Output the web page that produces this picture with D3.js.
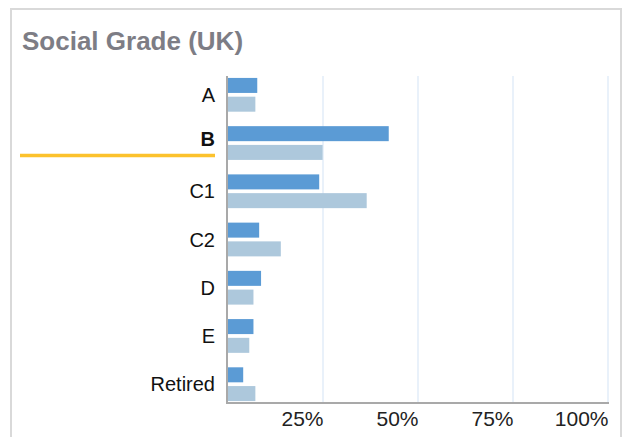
<!DOCTYPE html>
<html>
<head>
<meta charset="utf-8">
<script src="https://cdn.jsdelivr.net/npm/d3@7"></script>
<style>
  body { margin: 0; background: #fff; }
  text { font-family: "Liberation Sans", Arial, sans-serif; }
</style>
</head>
<body>
<svg id="chart"></svg>
<script>
var width = 628;
var height = 437;

// data
var categories = ["A", "B", "C1", "C2", "D", "E", "Retired"];
var seriesNames = ["audience", "population"];
var audience = [7.7, 42.3, 24.0, 8.2, 8.7, 6.7, 4.0];
var population = [7.2, 24.9, 36.5, 13.9, 6.7, 5.6, 7.2];
var tickVals = [25, 50, 75, 100];
var selected = "B";

var colors = { audience: "#5b9bd5", population: "#adc8dc" };

var svg = d3.select("#chart")
  .attr("width", width)
  .attr("height", height);

// panel border
svg.append("rect")
  .attr("x", 11).attr("y", 9)
  .attr("width", 610).attr("height", 460)
  .attr("fill", "none")
  .attr("stroke", "#d9d9d9")
  .attr("stroke-width", 2);

svg.append("text")
  .attr("x", 22).attr("y", 50)
  .attr("font-size", 26)
  .attr("font-weight", "bold")
  .attr("fill", "#7d7d85")
  .text("Social Grade (UK)");

var x = d3.scaleLinear().domain([0, 100]).range([228, 608]);

var y = d3.scaleBand()
  .domain(categories)
  .range([76, 403])
  .paddingInner(0.3)
  .paddingOuter(0.04);

var ySub = d3.scaleBand()
  .domain(seriesNames)
  .range([0, y.bandwidth()])
  .paddingInner(0.2);

// gridlines
svg.selectAll(".grid")
  .data(tickVals)
  .enter().append("line")
  .attr("class", "grid")
  .attr("x1", function(d) { return x(d); })
  .attr("x2", function(d) { return x(d); })
  .attr("y1", 76)
  .attr("y2", 403)
  .attr("stroke", "#e2edf9")
  .attr("stroke-width", 1.5);

// bars
var rows = categories.map(function(c, i) {
  return { cat: c, audience: audience[i], population: population[i] };
});

var groups = svg.selectAll(".group")
  .data(rows)
  .enter().append("g")
  .attr("transform", function(d) { return "translate(0," + y(d.cat) + ")"; });

groups.selectAll("rect")
  .data(function(d) {
    return seriesNames.map(function(s) { return { key: s, value: d[s] }; });
  })
  .enter().append("rect")
  .attr("x", x(0))
  .attr("y", function(d) { return ySub(d.key); })
  .attr("width", function(d) { return x(d.value) - x(0); })
  .attr("height", ySub.bandwidth())
  .attr("fill", function(d) { return colors[d.key]; });

// axis lines
svg.append("line")
  .attr("x1", x(0) - 1).attr("x2", x(0) - 1)
  .attr("y1", 76).attr("y2", 404)
  .attr("stroke", "#a9a9a9").attr("stroke-width", 2);

svg.append("line")
  .attr("x1", x(0) - 2).attr("x2", x(100) + 1)
  .attr("y1", 403).attr("y2", 403)
  .attr("stroke", "#a9a9a9").attr("stroke-width", 2);

// x tick labels
var xAxis = svg.append("g")
  .attr("transform", "translate(0,403)")
  .call(d3.axisBottom(x)
    .tickValues(tickVals)
    .tickSize(0)
    .tickPadding(0)
    .tickFormat(function(d) { return d + "%"; }));

xAxis.select(".domain").remove();
xAxis.selectAll("text")
  .attr("text-anchor", "end")
  .attr("y", 23)
  .attr("dy", 0)
  .attr("font-size", 21)
  .attr("font-family", "Liberation Sans, Arial, sans-serif")
  .attr("fill", "#222");

// category labels
var yAxis = svg.append("g")
  .attr("transform", "translate(215,0)")
  .call(d3.axisLeft(y).tickSize(0).tickPadding(0));

yAxis.select(".domain").remove();
yAxis.selectAll("text")
  .attr("font-size", 20)
  .attr("font-family", "Liberation Sans, Arial, sans-serif")
  .attr("fill", "#111")
  .attr("font-weight", function(d) { return d === selected ? "bold" : "normal"; })
  .attr("dy", function(d) { return d === selected ? "0.15em" : "0.35em"; });

// highlight underline for the selected grade
svg.append("line")
  .attr("x1", 20).attr("x2", 215)
  .attr("y1", y(selected) + y.bandwidth() / 2 + 12.5)
  .attr("y2", y(selected) + y.bandwidth() / 2 + 12.5)
  .attr("stroke", "#fcc22d")
  .attr("stroke-width", 3.5);
</script>
</body>
</html>
